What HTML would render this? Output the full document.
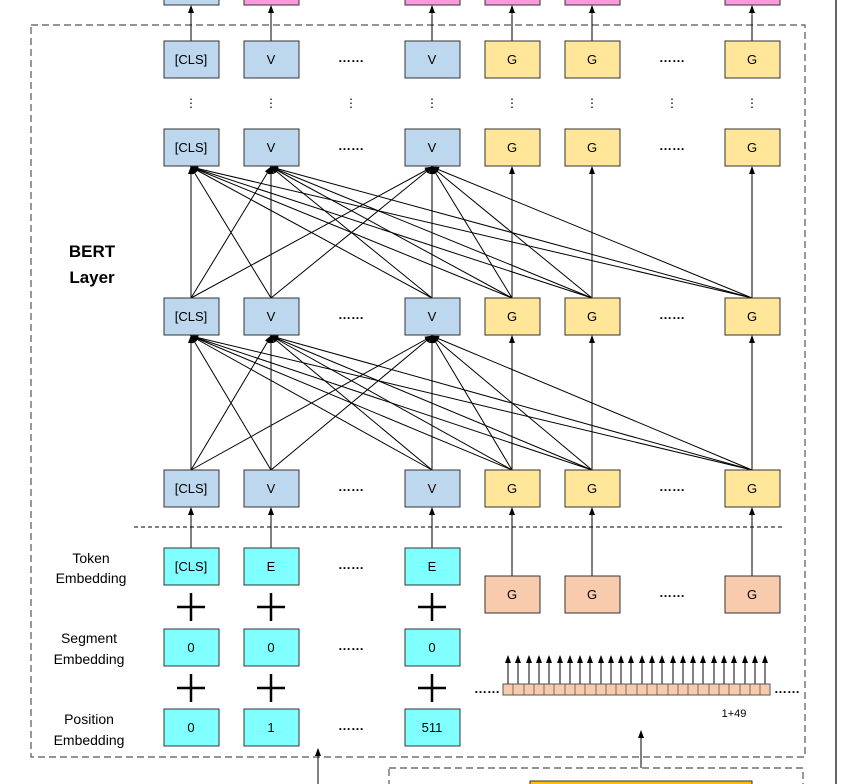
<!DOCTYPE html>
<html><head><meta charset="utf-8"><style>
body{margin:0;background:#fff;}
svg{display:block;font-family:"Liberation Sans",sans-serif;}
</style></head><body>
<svg width="861" height="784" viewBox="0 0 861 784" xmlns="http://www.w3.org/2000/svg">
<defs>
<marker id="a" markerWidth="8" markerHeight="8" refX="7" refY="4" orient="auto" markerUnits="userSpaceOnUse"><path d="M0,1 L8,4 L0,7 z" fill="#000"/></marker>
</defs>
<!-- gray vertical line -->
<line x1="836" y1="0" x2="836" y2="784" stroke="#666" stroke-width="2"/>
<!-- outer dashed -->
<rect x="31" y="25" width="774" height="732" fill="none" stroke="#555" stroke-width="1.2" stroke-dasharray="7,4"/>
<rect x="389" y="768" width="414" height="30" fill="none" stroke="#555" stroke-width="1.2" stroke-dasharray="7,4"/>
<rect x="530" y="781" width="222" height="10" fill="#ffc000" stroke="#333"/>
<line x1="134" y1="527" x2="782" y2="527" stroke="#000" stroke-dasharray="4,3"/>
<!-- top boxes -->
<g stroke="#333" stroke-width="1">
<rect x="164" y="-10" width="55" height="15" fill="#bdd7ee"/>
<rect x="244" y="-10" width="55" height="15" fill="#ff99dd"/>
<rect x="405" y="-10" width="55" height="15" fill="#ff99dd"/>
<rect x="485" y="-10" width="55" height="15" fill="#ff99dd"/>
<rect x="565" y="-10" width="55" height="15" fill="#ff99dd"/>
<rect x="725" y="-10" width="55" height="15" fill="#ff99dd"/>
</g>
<g stroke="#000" stroke-width="1" marker-end="url(#a)">
<line x1="191" y1="41" x2="191" y2="6"/><line x1="271" y1="41" x2="271" y2="6"/><line x1="432" y1="41" x2="432" y2="6"/><line x1="512" y1="41" x2="512" y2="6"/><line x1="592" y1="41" x2="592" y2="6"/><line x1="752" y1="41" x2="752" y2="6"/>
<!-- layer A -->
<line x1="191" y1="298" x2="191" y2="167"/><line x1="191" y1="298" x2="271" y2="167"/><line x1="191" y1="298" x2="432" y2="167"/>
<line x1="271" y1="298" x2="191" y2="167"/><line x1="271" y1="298" x2="271" y2="167"/><line x1="271" y1="298" x2="432" y2="167"/>
<line x1="432" y1="298" x2="191" y2="167"/><line x1="432" y1="298" x2="271" y2="167"/><line x1="432" y1="298" x2="432" y2="167"/>
<line x1="512" y1="298" x2="191" y2="167"/><line x1="512" y1="298" x2="271" y2="167"/><line x1="512" y1="298" x2="432" y2="167"/>
<line x1="592" y1="298" x2="191" y2="167"/><line x1="592" y1="298" x2="271" y2="167"/><line x1="592" y1="298" x2="432" y2="167"/>
<line x1="752" y1="298" x2="191" y2="167"/><line x1="752" y1="298" x2="271" y2="167"/><line x1="752" y1="298" x2="432" y2="167"/>
<line x1="512" y1="298" x2="512" y2="167"/><line x1="592" y1="298" x2="592" y2="167"/><line x1="752" y1="298" x2="752" y2="167"/>
<!-- layer B -->
<line x1="191" y1="470" x2="191" y2="336"/><line x1="191" y1="470" x2="271" y2="336"/><line x1="191" y1="470" x2="432" y2="336"/>
<line x1="271" y1="470" x2="191" y2="336"/><line x1="271" y1="470" x2="271" y2="336"/><line x1="271" y1="470" x2="432" y2="336"/>
<line x1="432" y1="470" x2="191" y2="336"/><line x1="432" y1="470" x2="271" y2="336"/><line x1="432" y1="470" x2="432" y2="336"/>
<line x1="512" y1="470" x2="191" y2="336"/><line x1="512" y1="470" x2="271" y2="336"/><line x1="512" y1="470" x2="432" y2="336"/>
<line x1="592" y1="470" x2="191" y2="336"/><line x1="592" y1="470" x2="271" y2="336"/><line x1="592" y1="470" x2="432" y2="336"/>
<line x1="752" y1="470" x2="191" y2="336"/><line x1="752" y1="470" x2="271" y2="336"/><line x1="752" y1="470" x2="432" y2="336"/>
<line x1="512" y1="470" x2="512" y2="336"/><line x1="592" y1="470" x2="592" y2="336"/><line x1="752" y1="470" x2="752" y2="336"/>
<!-- embeddings to layer -->
<line x1="191" y1="548" x2="191" y2="508"/><line x1="271" y1="548" x2="271" y2="508"/><line x1="432" y1="548" x2="432" y2="508"/>
<line x1="512" y1="576" x2="512" y2="508"/><line x1="592" y1="576" x2="592" y2="508"/><line x1="752" y1="576" x2="752" y2="508"/>
<line x1="318" y1="784" x2="318" y2="749"/><line x1="641" y1="768" x2="641" y2="731"/>
</g>
<!-- strip arrows -->
<g stroke="#000" stroke-width="1" marker-end="url(#a)">
<line x1="508" y1="684" x2="508" y2="656"/><line x1="518" y1="684" x2="518" y2="656"/><line x1="529" y1="684" x2="529" y2="656"/><line x1="539" y1="684" x2="539" y2="656"/><line x1="549" y1="684" x2="549" y2="656"/><line x1="560" y1="684" x2="560" y2="656"/><line x1="570" y1="684" x2="570" y2="656"/><line x1="580" y1="684" x2="580" y2="656"/><line x1="590" y1="684" x2="590" y2="656"/><line x1="601" y1="684" x2="601" y2="656"/><line x1="611" y1="684" x2="611" y2="656"/><line x1="621" y1="684" x2="621" y2="656"/><line x1="631" y1="684" x2="631" y2="656"/><line x1="642" y1="684" x2="642" y2="656"/><line x1="652" y1="684" x2="652" y2="656"/><line x1="662" y1="684" x2="662" y2="656"/><line x1="673" y1="684" x2="673" y2="656"/><line x1="683" y1="684" x2="683" y2="656"/><line x1="693" y1="684" x2="693" y2="656"/><line x1="703" y1="684" x2="703" y2="656"/><line x1="714" y1="684" x2="714" y2="656"/><line x1="724" y1="684" x2="724" y2="656"/><line x1="734" y1="684" x2="734" y2="656"/><line x1="745" y1="684" x2="745" y2="656"/><line x1="755" y1="684" x2="755" y2="656"/><line x1="765" y1="684" x2="765" y2="656"/>
</g>
<rect x="503" y="684" width="267" height="11" fill="#f8cbad" stroke="#555"/>
<g stroke="#555" stroke-width="0.8">
<line x1="513" y1="684" x2="513" y2="695"/><line x1="524" y1="684" x2="524" y2="695"/><line x1="534" y1="684" x2="534" y2="695"/><line x1="544" y1="684" x2="544" y2="695"/><line x1="554" y1="684" x2="554" y2="695"/><line x1="565" y1="684" x2="565" y2="695"/><line x1="575" y1="684" x2="575" y2="695"/><line x1="585" y1="684" x2="585" y2="695"/><line x1="596" y1="684" x2="596" y2="695"/><line x1="606" y1="684" x2="606" y2="695"/><line x1="616" y1="684" x2="616" y2="695"/><line x1="626" y1="684" x2="626" y2="695"/><line x1="637" y1="684" x2="637" y2="695"/><line x1="647" y1="684" x2="647" y2="695"/><line x1="657" y1="684" x2="657" y2="695"/><line x1="668" y1="684" x2="668" y2="695"/><line x1="678" y1="684" x2="678" y2="695"/><line x1="688" y1="684" x2="688" y2="695"/><line x1="698" y1="684" x2="698" y2="695"/><line x1="709" y1="684" x2="709" y2="695"/><line x1="719" y1="684" x2="719" y2="695"/><line x1="729" y1="684" x2="729" y2="695"/><line x1="740" y1="684" x2="740" y2="695"/><line x1="750" y1="684" x2="750" y2="695"/><line x1="760" y1="684" x2="760" y2="695"/>
</g>
<!-- boxes -->
<g stroke="#333" stroke-width="1" font-size="13" text-anchor="middle">
<g fill="#bdd7ee">
<rect x="164" y="41" width="55" height="37"/><rect x="244" y="41" width="55" height="37"/><rect x="405" y="41" width="55" height="37"/>
<rect x="164" y="129" width="55" height="37"/><rect x="244" y="129" width="55" height="37"/><rect x="405" y="129" width="55" height="37"/>
<rect x="164" y="298" width="55" height="37"/><rect x="244" y="298" width="55" height="37"/><rect x="405" y="298" width="55" height="37"/>
<rect x="164" y="470" width="55" height="37"/><rect x="244" y="470" width="55" height="37"/><rect x="405" y="470" width="55" height="37"/>
</g>
<g fill="#ffe699">
<rect x="485" y="41" width="55" height="37"/><rect x="565" y="41" width="55" height="37"/><rect x="725" y="41" width="55" height="37"/>
<rect x="485" y="129" width="55" height="37"/><rect x="565" y="129" width="55" height="37"/><rect x="725" y="129" width="55" height="37"/>
<rect x="485" y="298" width="55" height="37"/><rect x="565" y="298" width="55" height="37"/><rect x="725" y="298" width="55" height="37"/>
<rect x="485" y="470" width="55" height="37"/><rect x="565" y="470" width="55" height="37"/><rect x="725" y="470" width="55" height="37"/>
</g>
<g fill="#80ffff">
<rect x="164" y="548" width="55" height="37"/><rect x="244" y="548" width="55" height="37"/><rect x="405" y="548" width="55" height="37"/>
<rect x="164" y="629" width="55" height="37"/><rect x="244" y="629" width="55" height="37"/><rect x="405" y="629" width="55" height="37"/>
<rect x="164" y="709" width="55" height="37"/><rect x="244" y="709" width="55" height="37"/><rect x="405" y="709" width="55" height="37"/>
</g>
<g fill="#f8cbad">
<rect x="485" y="576" width="55" height="37"/><rect x="565" y="576" width="55" height="37"/><rect x="725" y="576" width="55" height="37"/>
</g>
</g>
<g font-size="13" text-anchor="middle" fill="#000">
<text x="191" y="64">[CLS]</text><text x="271" y="64">V</text><text x="432" y="64">V</text><text x="512" y="64">G</text><text x="592" y="64">G</text><text x="752" y="64">G</text>
<text x="191" y="152">[CLS]</text><text x="271" y="152">V</text><text x="432" y="152">V</text><text x="512" y="152">G</text><text x="592" y="152">G</text><text x="752" y="152">G</text>
<text x="191" y="321">[CLS]</text><text x="271" y="321">V</text><text x="432" y="321">V</text><text x="512" y="321">G</text><text x="592" y="321">G</text><text x="752" y="321">G</text>
<text x="191" y="493">[CLS]</text><text x="271" y="493">V</text><text x="432" y="493">V</text><text x="512" y="493">G</text><text x="592" y="493">G</text><text x="752" y="493">G</text>
<text x="191" y="571">[CLS]</text><text x="271" y="571">E</text><text x="432" y="571">E</text>
<text x="512" y="599">G</text><text x="592" y="599">G</text><text x="752" y="599">G</text>
<text x="191" y="652">0</text><text x="271" y="652">0</text><text x="432" y="652">0</text>
<text x="191" y="732">0</text><text x="271" y="732">1</text><text x="432" y="732">511</text>
<text x="351" y="62" font-weight="bold">……</text><text x="672" y="62" font-weight="bold">……</text>
<text x="351" y="150" font-weight="bold">……</text><text x="672" y="150" font-weight="bold">……</text>
<text x="351" y="319" font-weight="bold">……</text><text x="672" y="319" font-weight="bold">……</text>
<text x="351" y="491" font-weight="bold">……</text><text x="672" y="491" font-weight="bold">……</text>
<text x="351" y="569" font-weight="bold">……</text><text x="672" y="597" font-weight="bold">……</text>
<text x="351" y="650" font-weight="bold">……</text><text x="351" y="730" font-weight="bold">……</text>
<text x="487" y="693" font-weight="bold">……</text><text x="787" y="693" font-weight="bold">……</text>
<g font-size="12">
<text x="191" y="107">⋮</text><text x="271" y="107">⋮</text><text x="351" y="107">⋮</text><text x="432" y="107">⋮</text><text x="512" y="107">⋮</text><text x="592" y="107">⋮</text><text x="672" y="107">⋮</text><text x="752" y="107">⋮</text>
</g>
<text x="734" y="717" font-size="11">1+49</text>
<g font-size="14">
<text x="91" y="563">Token</text><text x="91" y="583">Embedding</text>
<text x="89" y="643">Segment</text><text x="89" y="664">Embedding</text>
<text x="89" y="724">Position</text><text x="89" y="745">Embedding</text>
</g>
<text x="92" y="257" font-size="17" font-weight="bold">BERT</text>
<text x="92" y="283" font-size="17" font-weight="bold">Layer</text>
</g>
<g stroke="#000" stroke-width="2.5">
<line x1="177" y1="607" x2="205" y2="607"/><line x1="191" y1="593" x2="191" y2="621"/>
<line x1="257" y1="607" x2="285" y2="607"/><line x1="271" y1="593" x2="271" y2="621"/>
<line x1="418" y1="607" x2="446" y2="607"/><line x1="432" y1="593" x2="432" y2="621"/>
<line x1="177" y1="688" x2="205" y2="688"/><line x1="191" y1="674" x2="191" y2="702"/>
<line x1="257" y1="688" x2="285" y2="688"/><line x1="271" y1="674" x2="271" y2="702"/>
<line x1="418" y1="688" x2="446" y2="688"/><line x1="432" y1="674" x2="432" y2="702"/>
</g>
</svg>
</body></html>
